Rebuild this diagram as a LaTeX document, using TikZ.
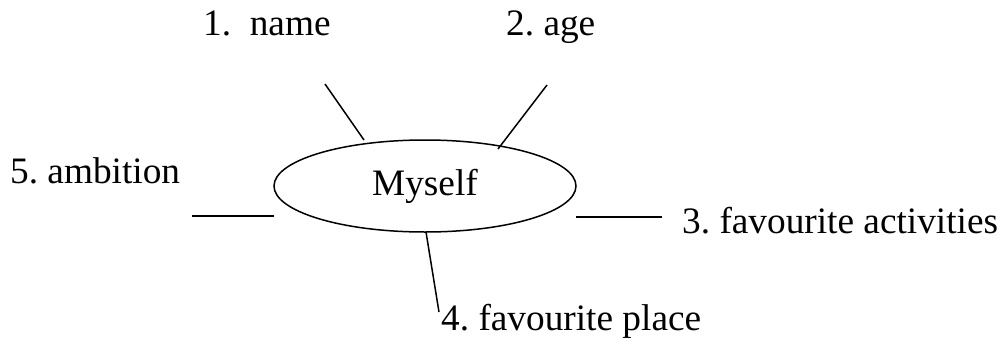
\documentclass[tikz,border=0pt]{standalone}
\usepackage{fontspec}
\setmainfont{Liberation Serif}
\usetikzlibrary{shapes.geometric}
\frenchspacing
\begin{document}
\begin{tikzpicture}[x=1pt,y=-1pt,
  every node/.style={font=\fontsize{37.3}{40}\selectfont, inner sep=0pt},
  lbl/.style={anchor=base west},
  spoke/.style={draw, line width=1.5pt}]
\useasboundingbox (0,0) rectangle (1002,343);
\node[ellipse, draw, line width=1.5pt, minimum width=302pt, minimum height=92pt] (me) at (425,186) {\raisebox{-3.5pt}{Myself}};
\node[lbl] (name) at (203,35) {1.~~name};
\node[lbl] (age) at (506,35) {2. age};
\node[lbl] (amb) at (10,183) {5. ambition};
\node[lbl] (act) at (682,233) {3. favourite activities};
\node[lbl] (place) at (441,330) {4. favourite place};
\coordinate (a1) at (325,84);  \coordinate (a2) at (364,140);
\coordinate (b1) at (547,85);  \coordinate (b2) at (498,149);
\coordinate (c1) at (192,216); \coordinate (c2) at (274,216);
\coordinate (d1) at (576,217); \coordinate (d2) at (662,217);
\coordinate (e1) at (426,232); \coordinate (e2) at (439,312);
\draw[spoke] (a1) -- (a2);
\draw[spoke] (b1) -- (b2);
\draw[spoke] (c1) -- (c2);
\draw[spoke] (d1) -- (d2);
\draw[spoke] (e1) -- (e2);
\end{tikzpicture}
\end{document}
